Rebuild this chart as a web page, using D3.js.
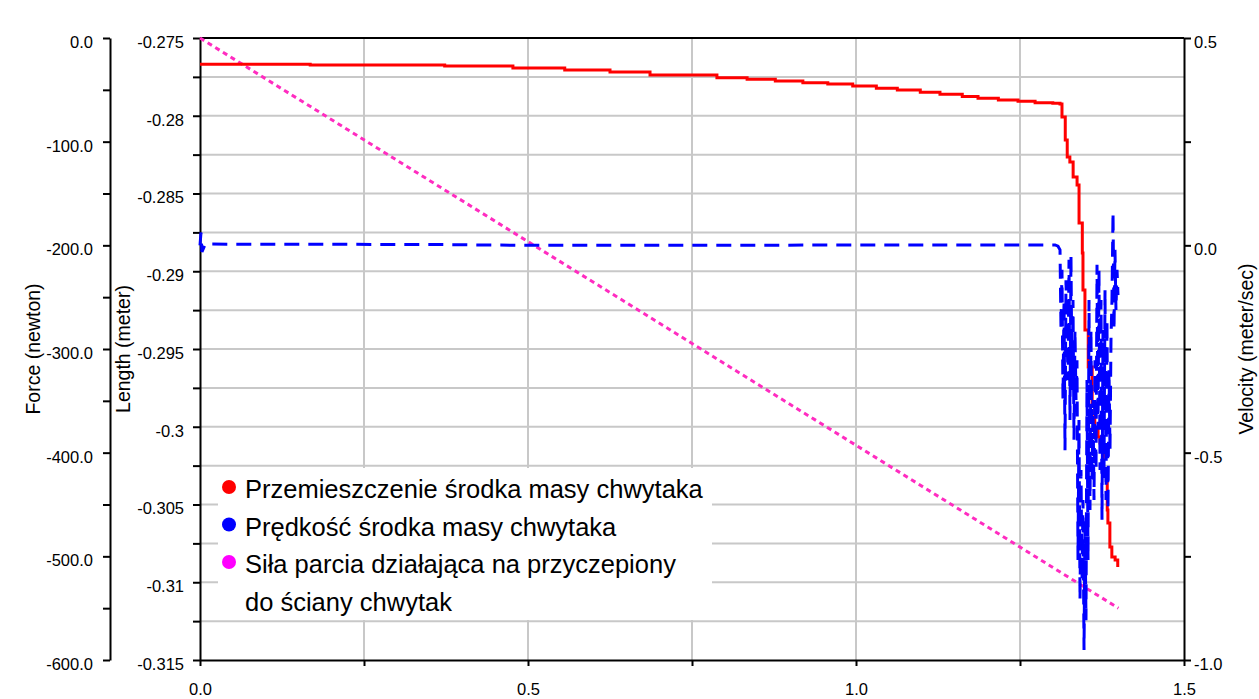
<!DOCTYPE html>
<html>
<head>
<meta charset="utf-8">
<script src="https://cdn.jsdelivr.net/npm/d3@7"></script>
<style>
  body { margin: 0; background: #fff; }
  svg { display: block; font-family: "Liberation Sans", Arial, sans-serif; }
</style>
</head>
<body>
<svg id="chart" width="1259" height="699"></svg>
<script>
// time (s) vs length (m) - centre of mass displacement
const displacement = [
  [0, -0.27669], [0.168, -0.27674], [0.373, -0.2768], [0.477, -0.27693], [0.556, -0.27706],
  [0.625, -0.27719], [0.686, -0.27738], [0.788, -0.27755], [0.834, -0.27766], [0.877, -0.27777],
  [0.919, -0.27787], [0.957, -0.27796], [0.995, -0.27809], [1.031, -0.27823], [1.063, -0.27834],
  [1.098, -0.27849], [1.128, -0.27862], [1.162, -0.27877], [1.186, -0.27888], [1.217, -0.27899],
  [1.247, -0.27907], [1.273, -0.27916], [1.300, -0.2792], [1.311, -0.27924], [1.314, -0.28008],
  [1.319, -0.28156], [1.322, -0.28265], [1.326, -0.28297], [1.331, -0.28394], [1.337, -0.28445],
  [1.340, -0.2869], [1.345, -0.28883], [1.346, -0.2912], [1.349, -0.29378], [1.354, -0.29616],
  [1.360, -0.29847], [1.364, -0.30015], [1.369, -0.30066], [1.372, -0.30104], [1.377, -0.30297],
  [1.383, -0.30535], [1.384, -0.30619], [1.387, -0.30773], [1.390, -0.30837], [1.395, -0.30857],
  [1.399, -0.30902]
];

// time (s) vs velocity (m/s)
const velocity = [
  [0, 0], [0.0015, 0.031], [0.003, -0.016], [0.008, 0.003], [0.35, 0.002], [0.5, 0],
  [1.3034, 0.001], [1.3079, -0.002], [1.3110, -0.011], [1.3125, -0.204], [1.3140, -0.059],
  [1.3155, -0.373], [1.3171, -0.132], [1.3186, -0.494], [1.3201, -0.084], [1.3232, -0.325],
  [1.3247, -0.035], [1.3262, -0.421], [1.3277, -0.023], [1.3293, -0.349], [1.3308, -0.132],
  [1.3323, -0.469], [1.3338, -0.204], [1.3354, -0.373], [1.3369, -0.277], [1.3384, -0.759],
  [1.3399, -0.421], [1.3415, -0.855], [1.3430, -0.542], [1.3445, -0.807], [1.3460, -0.614],
  [1.3476, -0.976], [1.3491, -0.662], [1.3506, -0.904], [1.3521, -0.325], [1.3537, -0.759],
  [1.3552, -0.132], [1.3567, -0.638], [1.3582, -0.204], [1.3598, -0.566], [1.3613, -0.373],
  [1.3628, -0.614], [1.3643, -0.277], [1.3659, -0.542], [1.3674, -0.047], [1.3689, -0.445],
  [1.3704, -0.059], [1.3720, -0.542], [1.3735, -0.132], [1.3750, -0.662], [1.3765, -0.204],
  [1.3780, -0.566], [1.3796, -0.108], [1.3811, -0.614], [1.3826, -0.180], [1.3841, -0.638],
  [1.3857, -0.301], [1.3872, -0.494], [1.3887, -0.228], [1.3902, -0.132], [1.3918, 0.080],
  [1.3933, -0.204], [1.3948, -0.011], [1.3963, -0.156], [1.3979, -0.059], [1.3994, -0.120]
];

// time (s) vs force (N)
const force = [[0, 0], [1.4, -550]];

const legendLines = [
  { color: "#ff0000", text: "Przemieszczenie środka masy chwytaka" },
  { color: "#0000ff", text: "Prędkość środka masy chwytaka" },
  { color: "#ff00ff", text: "Siła parcia działająca na przyczepiony" },
  { color: null, text: "do ściany chwytak" }
];

const svg = d3.select("#chart");
const plotLeft = 200, plotRight = 1184, plotTop = 38, plotBottom = 660;

const x = d3.scaleLinear().domain([0, 1.5]).range([plotLeft, plotRight]);
const yLen = d3.scaleLinear().domain([-0.315, -0.275]).range([plotBottom, plotTop]);
const yForce = d3.scaleLinear().domain([-600, 0]).range([plotBottom, plotTop]);
const yVel = d3.scaleLinear().domain([-1, 0.5]).range([plotBottom, plotTop]);

const round = v => Math.round(v * 1e6) / 1e6;
// plain hyphen minus, one decimal
const fmt1 = d => (Math.abs(d) < 1e-9 ? 0 : d).toFixed(1);

// grid
const grid = svg.append("g").attr("stroke", "#c8c8c8").attr("stroke-width", 2);
d3.range(1, 16).map(i => round(-0.275 - i * 0.0025)).forEach(v => {
  grid.append("line").attr("x1", plotLeft).attr("x2", plotRight).attr("y1", yLen(v)).attr("y2", yLen(v));
});
[0.25, 0.5, 0.75, 1.0, 1.25].forEach(v => {
  grid.append("line").attr("x1", x(v)).attr("x2", x(v)).attr("y1", plotTop).attr("y2", plotBottom);
});

// frame top line
svg.append("line").attr("x1", plotLeft).attr("x2", plotRight).attr("y1", plotTop).attr("y2", plotTop)
  .attr("stroke", "#000").attr("stroke-width", 2);

function styleAxis(g) {
  g.selectAll("path, line").attr("stroke", "#000").attr("stroke-width", 2);
  g.selectAll("text").attr("font-size", 16.5).attr("fill", "#000")
    .attr("font-family", "\"Liberation Sans\", Arial, sans-serif");
}

// force axis
svg.append("g").attr("transform", `translate(110,0)`)
  .call(d3.axisLeft(yForce).tickValues(d3.range(-600, 1, 50)).tickSize(7).tickSizeOuter(0).tickPadding(10)
    .tickFormat(d => d % 100 === 0 ? fmt1(d) : ""))
  .call(styleAxis)
  .call(g => g.selectAll("text").attr("dy", "0.57em"));

// length axis
svg.append("g").attr("transform", `translate(${plotLeft},0)`)
  .call(d3.axisLeft(yLen).tickValues(d3.range(0, 17).map(i => round(-0.275 - i * 0.0025)))
    .tickSize(7).tickSizeOuter(0).tickPadding(9)
    .tickFormat((d, i) => i % 2 === 0 ? String(round(d)) : ""))
  .call(styleAxis)
  .call(g => g.selectAll("text").attr("dy", "0.57em"));

// velocity axis
svg.append("g").attr("transform", `translate(${plotRight},0)`)
  .call(d3.axisRight(yVel).tickValues([-1, -0.75, -0.5, -0.25, 0, 0.25, 0.5]).tickSize(7).tickSizeOuter(0).tickPadding(3)
    .tickFormat(d => (d * 2) % 1 === 0 ? fmt1(d) : ""))
  .call(styleAxis)
  .call(g => g.selectAll("text").attr("dy", "0.57em"));

// time axis
svg.append("g").attr("transform", `translate(0,${plotBottom})`)
  .call(d3.axisBottom(x).tickValues([0, 0.25, 0.5, 0.75, 1, 1.25, 1.5]).tickSize(6).tickSizeOuter(0).tickPadding(17)
    .tickFormat(d => (d * 2) % 1 === 0 ? fmt1(d) : ""))
  .call(styleAxis);

// axis titles
const titles = [
  { text: "Force (newton)", x: 40 },
  { text: "Length (meter)", x: 130 },
  { text: "Velocity (meter/sec)", x: 1253 }
];
titles.forEach(t => {
  svg.append("text")
    .attr("transform", `translate(${t.x},${(plotTop + plotBottom) / 2}) rotate(-90)`)
    .attr("text-anchor", "middle")
    .attr("font-size", 19.5)
    .attr("fill", "#000")
    .text(t.text);
});

// series
const plot = svg.append("g");

plot.append("path")
  .datum(force)
  .attr("fill", "none")
  .attr("stroke", "#ff2cc0")
  .attr("stroke-width", 3)
  .attr("stroke-dasharray", "5,4")
  .attr("d", d3.line().x(d => x(d[0])).y(d => yForce(d[1])));

plot.append("path")
  .datum(displacement)
  .attr("fill", "none")
  .attr("stroke", "#ff0000")
  .attr("stroke-width", 3)
  .attr("d", d3.line().curve(d3.curveStepAfter).x(d => x(d[0])).y(d => yLen(d[1])));

plot.append("path")
  .datum(velocity)
  .attr("fill", "none")
  .attr("stroke", "#0000ff")
  .attr("stroke-width", 3)
  .attr("stroke-dasharray", "15,9")
  .attr("d", d3.line().x(d => x(d[0])).y(d => yVel(d[1])));

// legend
const legend = svg.append("g");
legend.append("rect")
  .attr("x", 218).attr("y", 468).attr("width", 494).attr("height", 152)
  .attr("fill", "#fff");
legendLines.forEach((l, i) => {
  const cy = 487 + i * 37.5;
  if (l.color) {
    legend.append("circle").attr("cx", 229).attr("cy", cy).attr("r", 7).attr("fill", l.color);
  }
  legend.append("text")
    .attr("x", 245).attr("y", cy + 11)
    .attr("font-size", 25.5)
    .attr("fill", "#000")
    .text(l.text);
});
</script>
</body>
</html>
